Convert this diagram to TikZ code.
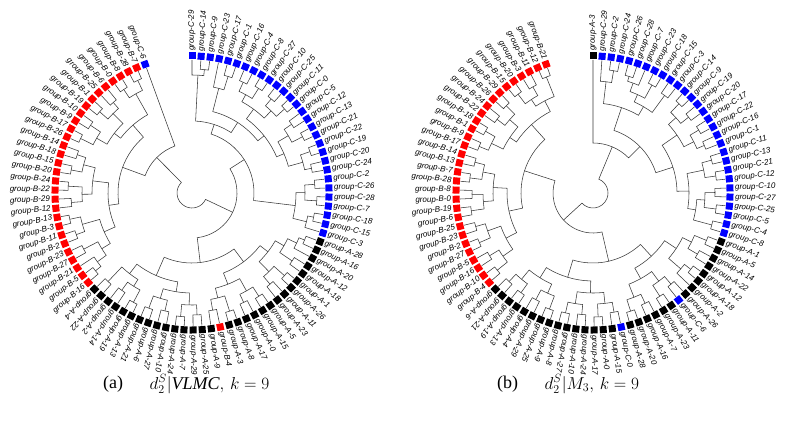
\documentclass[tikz,border=0pt]{standalone}
\usepackage{fontspec}
\setmainfont{Liberation Serif}
\newfontfamily\lblfont{Liberation Sans}
\usetikzlibrary{positioning}

\colorlet{grpA}{black}
\colorlet{grpB}{red}
\colorlet{grpC}{blue}
\def\angstep{3.8202}

% leaf / merge bookkeeping for the fan dendrograms
\newcommand\dmerge[4]{%
  \edef\angA{\csname dA#2\endcsname}%
  \edef\angB{\csname dA#3\endcsname}%
  \edef\radA{\csname dR#2\endcsname}%
  \edef\radB{\csname dR#3\endcsname}%
  \draw[treeline] (\angA:\radA) -- (\angA:#4) arc[start angle=\angA, end angle=\angB, radius=#4] -- (\angB:\radB);%
  \pgfmathsetmacro\angM{(\angA+\angB)/2}%
  \expandafter\xdef\csname dA#1\endcsname{\angM}%
  \expandafter\xdef\csname dR#1\endcsname{#4}}

\tikzset{
  treeline/.style={line width=0.55pt, black!78},
  leafsq/.style={rectangle, minimum size=7pt, inner sep=0pt},
  leaflbl/.style={font=\lblfont\itshape\fontsize{8}{9}\selectfont, inner sep=1pt},
  caption/.style={font=\fontsize{18}{20}\selectfont, inner sep=0pt}
}

\begin{document}
\begin{tikzpicture}[x=1pt, y=1pt]
    \useasboundingbox (0,0) rectangle (787,421);

    % (a) left dendrogram
    \begin{scope}[shift={(192,228)}]
    \foreach \g/\n [count=\i from 0] in {C/29,C/14,C/9,C/23,C/17,C/1,C/16,C/4,C/8,C/27,C/10,C/25,C/11,C/0,C/5,C/12,C/13,C/21,C/22,C/19,C/20,C/24,C/2,C/26,C/28,C/7,C/18,C/15,C/3,
        A/28,A/16,A/20,A/12,A/18,A/1,A/26,A/11,A/23,A/5,A/15,A/0,A/17,A/8,A/3,B/4,A/9,A/25,A/29,A/7,A/24,A/10,A/27,A/6,A/21,A/13,A/19,A/14,A/2,A/22,A/4,
        B/16,B/5,B/21,B/27,B/23,B/2,B/11,B/3,B/13,B/12,B/29,B/22,B/24,B/20,B/15,B/18,B/14,B/26,B/17,B/9,B/10,B/19,B/1,B/25,B/6,B/0,B/8,B/28,B/7,C/6} {
        \pgfmathsetmacro\ang{90-\i*\angstep}
        \pgfmathsetmacro\rot{\ang+180}
        \expandafter\xdef\csname dAL\i\endcsname{\ang}
        \expandafter\xdef\csname dRL\i\endcsname{133}
        \node[leafsq, fill=grp\g, rotate=\ang] (la\i) at (\ang:137) {};
        \ifnum\i<60
            \node[leaflbl, rotate=\ang, anchor=west] (lta\i) at (\ang:141) {group-\g-\n};
        \else
            \node[leaflbl, rotate=\rot, anchor=east] (lta\i) at (\ang:141) {group-\g-\n};
        \fi
    }
    % C cluster
    \dmerge{c1}{L1}{L2}{124} \dmerge{c2}{L0}{c1}{118}
    \dmerge{c3}{L4}{L5}{122} \dmerge{c4}{L3}{c3}{108}
    \dmerge{c5}{L6}{L7}{122} \dmerge{c6}{L8}{L9}{124} \dmerge{c7}{c5}{c6}{112}
    \dmerge{c8}{L10}{L11}{123} \dmerge{c9}{L12}{L13}{125} \dmerge{c10}{c8}{c9}{114}
    \dmerge{c11}{c7}{c10}{104}
    \dmerge{c12}{L14}{L15}{121} \dmerge{c13}{L16}{L17}{124} \dmerge{c14}{c12}{c13}{112}
    \dmerge{c15}{L18}{L19}{125} \dmerge{c16}{L20}{L21}{122} \dmerge{c17}{c15}{c16}{115}
    \dmerge{c18}{c14}{c17}{100} \dmerge{c19}{c11}{c18}{92}
    \dmerge{c20}{c4}{c19}{84} \dmerge{c21}{c2}{c20}{72}
    \dmerge{c22}{L22}{L23}{123} \dmerge{c23}{L24}{L25}{125} \dmerge{c24}{c22}{c23}{113}
    \dmerge{c25}{L26}{L27}{124} \dmerge{c26}{c25}{L28}{118} \dmerge{c27}{c24}{c26}{104}
    \dmerge{cC}{c21}{c27}{62}
    % A cluster
    \dmerge{a1}{L29}{L30}{122} \dmerge{a2}{a1}{L31}{116} \dmerge{a3}{L32}{L33}{121} \dmerge{a4}{a2}{a3}{106}
    \dmerge{a5}{L34}{L35}{124} \dmerge{a6}{L36}{L37}{120} \dmerge{a7}{a5}{a6}{110} \dmerge{a8}{a4}{a7}{96}
    \dmerge{a9}{L38}{L39}{123} \dmerge{a10}{L40}{L41}{121} \dmerge{a11}{a9}{a10}{112}
    \dmerge{a12}{L42}{L43}{124} \dmerge{a13}{L44}{L45}{119} \dmerge{a14}{a12}{a13}{108} \dmerge{a15}{a11}{a14}{98}
    \dmerge{a16}{a8}{a15}{86}
    \dmerge{a17}{L46}{L47}{122} \dmerge{a18}{L48}{L49}{124} \dmerge{a19}{a17}{a18}{112}
    \dmerge{a20}{L50}{L51}{121} \dmerge{a21}{L52}{L53}{123} \dmerge{a22}{a20}{a21}{110} \dmerge{a23}{a19}{a22}{100}
    \dmerge{a24}{L54}{L55}{124} \dmerge{a25}{L56}{L57}{120} \dmerge{a26}{a24}{a25}{110}
    \dmerge{a27}{L58}{L59}{122} \dmerge{a28}{a26}{a27}{102} \dmerge{a29}{a23}{a28}{90}
    \dmerge{aA}{a16}{a29}{70}
    % B cluster
    \dmerge{b1}{L60}{L61}{124} \dmerge{b2}{b1}{L62}{117} \dmerge{b3}{L63}{L64}{122} \dmerge{b4}{b2}{b3}{106}
    \dmerge{b5}{L65}{L66}{123} \dmerge{b6}{L67}{L68}{125} \dmerge{b7}{b5}{b6}{114} \dmerge{b8}{b4}{b7}{96}
    \dmerge{b9}{L69}{L70}{121} \dmerge{b10}{L71}{L72}{124} \dmerge{b11}{b9}{b10}{110}
    \dmerge{b12}{L73}{L74}{123} \dmerge{b13}{L75}{L76}{121} \dmerge{b14}{b12}{b13}{112} \dmerge{b15}{b11}{b14}{100}
    \dmerge{b16}{b8}{b15}{84}
    \dmerge{b17}{L77}{L78}{124} \dmerge{b18}{L79}{L80}{122} \dmerge{b19}{b17}{b18}{110}
    \dmerge{b20}{L81}{L82}{123} \dmerge{b21}{L83}{L84}{120} \dmerge{b22}{b20}{b21}{112} \dmerge{b23}{b19}{b22}{98}
    \dmerge{b24}{L85}{L86}{124} \dmerge{b25}{L87}{L88}{125} \dmerge{b26}{b24}{b25}{114} \dmerge{b27}{b23}{b26}{90}
    \dmerge{bB}{b16}{b27}{74}
    % root
    \dmerge{ca}{cC}{aA}{45} \dmerge{bb}{bB}{L89}{50} \dmerge{root}{ca}{bb}{15}
    \end{scope}

    % (b) right dendrogram
    \begin{scope}[shift={(593,228)}]
    \foreach \g/\n [count=\i from 0] in {A/3,C/29,C/2,C/24,C/26,C/28,C/7,C/23,C/18,C/15,C/3,C/14,C/9,C/19,C/20,C/17,C/22,C/16,C/1,C/11,C/13,C/21,C/12,C/10,C/27,C/25,C/5,C/4,C/8,
        A/1,A/5,A/14,A/22,A/12,A/18,A/2,A/26,C/6,A/11,A/23,A/7,A/16,A/20,A/28,C/0,A/15,A/0,A/17,A/24,A/10,A/27,A/8,A/9,A/25,A/29,A/4,A/13,A/19,A/21,A/6,
        B/4,B/10,B/16,B/5,B/27,B/2,B/23,B/25,B/6,B/19,B/0,B/8,B/28,B/7,B/13,B/14,B/17,B/9,B/1,B/18,B/22,B/24,B/26,B/29,B/15,B/20,B/3,B/11,B/12,B/21} {
        \pgfmathsetmacro\ang{90-\i*\angstep}
        \pgfmathsetmacro\rot{\ang+180}
        \expandafter\xdef\csname dAL\i\endcsname{\ang}
        \expandafter\xdef\csname dRL\i\endcsname{133}
        \node[leafsq, fill=grp\g, rotate=\ang] (lb\i) at (\ang:137) {};
        \ifnum\i<60
            \node[leaflbl, rotate=\ang, anchor=west] (ltb\i) at (\ang:141) {group-\g-\n};
        \else
            \node[leaflbl, rotate=\rot, anchor=east] (ltb\i) at (\ang:141) {group-\g-\n};
        \fi
    }
    % C cluster
    \dmerge{c1}{L2}{L3}{124} \dmerge{c2}{L1}{c1}{112}
    \dmerge{c3}{L4}{L5}{122} \dmerge{c4}{L6}{c3}{117} \dmerge{c5}{L7}{L8}{123} \dmerge{c6}{c4}{c5}{108}
    \dmerge{c7}{L9}{L10}{121} \dmerge{c8}{c6}{c7}{100} \dmerge{c9}{c2}{c8}{90}
    \dmerge{c10}{L11}{L12}{124} \dmerge{c11}{L13}{L14}{122} \dmerge{c12}{c10}{c11}{112}
    \dmerge{c13}{L15}{L16}{123} \dmerge{c14}{L17}{L18}{121} \dmerge{c15}{c13}{c14}{113} \dmerge{c16}{c12}{c15}{102}
    \dmerge{c17}{L19}{L20}{123} \dmerge{c18}{L21}{L22}{124} \dmerge{c19}{c17}{c18}{113}
    \dmerge{c20}{L23}{L24}{122} \dmerge{c21}{L25}{L26}{124} \dmerge{c22}{c20}{c21}{112}
    \dmerge{c23}{L27}{L28}{123} \dmerge{c24}{c22}{c23}{104} \dmerge{c25}{c19}{c24}{96}
    \dmerge{c26}{c16}{c25}{84} \dmerge{cC}{c9}{c26}{66}
    % A cluster
    \dmerge{a1}{L29}{L30}{123} \dmerge{a2}{L31}{L32}{121} \dmerge{a3}{a1}{a2}{110}
    \dmerge{a4}{L33}{L34}{124} \dmerge{a5}{a4}{L35}{116} \dmerge{a6}{a3}{a5}{100}
    \dmerge{a7}{L36}{L37}{120} \dmerge{a8}{L38}{L39}{123} \dmerge{a9}{a7}{a8}{110}
    \dmerge{a10}{L40}{L41}{122} \dmerge{a11}{L42}{L43}{124} \dmerge{a12}{a10}{a11}{112} \dmerge{a13}{a9}{a12}{98}
    \dmerge{a14}{a6}{a13}{86}
    \dmerge{a15}{L44}{L45}{121} \dmerge{a16}{L46}{L47}{124} \dmerge{a17}{a15}{a16}{111}
    \dmerge{a18}{L48}{L49}{122} \dmerge{a19}{L50}{L51}{123} \dmerge{a20}{a18}{a19}{112} \dmerge{a21}{a17}{a20}{100}
    \dmerge{a22}{L52}{L53}{124} \dmerge{a23}{L54}{L55}{121} \dmerge{a24}{a22}{a23}{110}
    \dmerge{a25}{L56}{L57}{123} \dmerge{a26}{L58}{L59}{122} \dmerge{a27}{a25}{a26}{112} \dmerge{a28}{a24}{a27}{100}
    \dmerge{a29}{a21}{a28}{88} \dmerge{aA}{a14}{a29}{70}
    % B cluster
    \dmerge{b1}{L60}{L61}{123} \dmerge{b2}{L62}{L63}{121} \dmerge{b3}{b1}{b2}{110}
    \dmerge{b4}{L64}{L65}{124} \dmerge{b5}{L66}{L67}{122} \dmerge{b6}{b4}{b5}{112} \dmerge{b7}{b3}{b6}{98}
    \dmerge{b8}{L68}{L69}{123} \dmerge{b9}{L70}{L71}{121} \dmerge{b10}{b8}{b9}{110}
    \dmerge{b11}{L72}{L73}{124} \dmerge{b12}{L74}{L75}{122} \dmerge{b13}{b11}{b12}{112} \dmerge{b14}{b10}{b13}{100}
    \dmerge{b15}{b7}{b14}{86}
    \dmerge{b16}{L76}{L77}{123} \dmerge{b17}{L78}{L79}{124} \dmerge{b18}{b16}{b17}{113}
    \dmerge{b19}{L80}{L81}{121} \dmerge{b20}{L82}{L83}{123} \dmerge{b21}{b19}{b20}{111} \dmerge{b22}{b18}{b21}{100}
    \dmerge{b23}{L84}{L85}{124} \dmerge{b24}{L86}{L87}{122} \dmerge{b25}{b23}{b24}{112}
    \dmerge{b26}{L88}{L89}{125} \dmerge{b27}{b25}{b26}{104} \dmerge{b28}{b22}{b27}{92}
    \dmerge{bB}{b15}{b28}{72}
    % root
    \dmerge{cc}{L0}{cC}{50} \dmerge{ab}{aA}{bB}{40} \dmerge{root}{cc}{ab}{15}
    \end{scope}

    % captions
    \node[caption, anchor=west] (capa) at (103,37) {(a)};
    \node[caption, anchor=west, right=26pt of capa] (fora) {$d_2^S\big|\mathit{VLMC},\,k=9$};
    \node[caption, anchor=west] (capb) at (497,37) {(b)};
    \node[caption, anchor=west, right=26pt of capb] (forb) {$d_2^S\big|M_3,\,k=9$};
\end{tikzpicture}
\end{document}
